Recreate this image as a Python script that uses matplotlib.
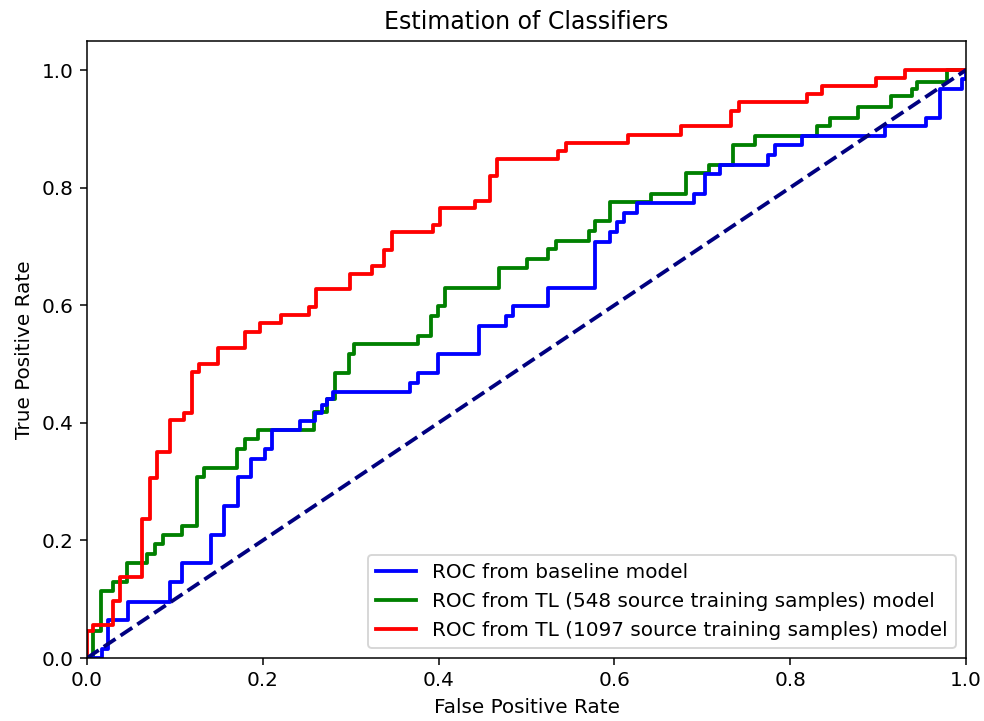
import matplotlib
import numpy as np
from matplotlib import pyplot as plt

matplotlib.use("Agg")

DPI = 137
plt.rcParams["font.size"] = 10.5

# ROC step points: false positive rate where the curve steps up, and true positive rate after the step
BASELINE_FPR = [0.0, 0.0166, 0.024, 0.047, 0.094, 0.108, 0.141, 0.156, 0.172, 0.187,
                0.2025, 0.211, 0.242, 0.259, 0.267, 0.273, 0.280, 0.368, 0.376, 0.399,
                0.446, 0.477, 0.485, 0.525, 0.578, 0.595, 0.6025, 0.611, 0.626, 0.690,
                0.703, 0.720, 0.775, 0.783, 0.813, 0.908, 0.955, 0.970, 0.995, 1.0]
BASELINE_TPR = [0.0, 0.016, 0.065, 0.096, 0.129, 0.162, 0.209, 0.259, 0.307, 0.338,
                0.355, 0.388, 0.403, 0.416, 0.430, 0.441, 0.453, 0.468, 0.484, 0.517,
                0.565, 0.582, 0.598, 0.629, 0.708, 0.725, 0.742, 0.757, 0.774, 0.789,
                0.823, 0.838, 0.855, 0.872, 0.887, 0.904, 0.919, 0.967, 0.985, 1.0]

TL548_FPR = [0.0, 0.007, 0.0155, 0.030, 0.046, 0.068, 0.077, 0.086, 0.108, 0.125,
             0.133, 0.171, 0.180, 0.195, 0.258, 0.273, 0.282, 0.298, 0.304, 0.376,
             0.391, 0.399, 0.407, 0.469, 0.500, 0.525, 0.533, 0.571, 0.578, 0.595,
             0.642, 0.681, 0.708, 0.735, 0.760, 0.830, 0.845, 0.877, 0.915, 0.938,
             0.944, 0.978, 1.0]
TL548_TPR = [0.0, 0.046, 0.114, 0.129, 0.162, 0.177, 0.194, 0.209, 0.225, 0.307,
             0.323, 0.355, 0.372, 0.388, 0.419, 0.441, 0.484, 0.517, 0.534, 0.548,
             0.582, 0.598, 0.629, 0.663, 0.678, 0.695, 0.709, 0.727, 0.744, 0.776,
             0.789, 0.824, 0.838, 0.872, 0.888, 0.904, 0.919, 0.937, 0.955, 0.967,
             0.980, 1.0, 1.0]

TL1097_FPR = [0.0, 0.007, 0.030, 0.038, 0.063, 0.072, 0.080, 0.094, 0.110, 0.119,
              0.127, 0.149, 0.180, 0.197, 0.221, 0.253, 0.260, 0.299, 0.324, 0.338,
              0.347, 0.394, 0.402, 0.441, 0.458, 0.466, 0.536, 0.545, 0.616, 0.676,
              0.733, 0.742, 0.819, 0.836, 0.898, 0.931, 1.0]
TL1097_TPR = [0.046, 0.056, 0.097, 0.138, 0.236, 0.306, 0.351, 0.404, 0.416, 0.487,
              0.500, 0.528, 0.555, 0.569, 0.584, 0.597, 0.627, 0.653, 0.667, 0.694,
              0.724, 0.736, 0.766, 0.778, 0.819, 0.849, 0.863, 0.876, 0.889, 0.905,
              0.931, 0.945, 0.959, 0.973, 0.987, 1.0, 1.0]

CURVES = [
    ("ROC from baseline model", BASELINE_FPR, BASELINE_TPR, "blue", 2.2),
    ("ROC from TL (548 source training samples) model", TL548_FPR, TL548_TPR, "green", 2.1),
    ("ROC from TL (1097 source training samples) model", TL1097_FPR, TL1097_TPR, "red", 2.3),
]


def plot_roc():
    fig = plt.figure(figsize=(984 / DPI, 721 / DPI), dpi=DPI)
    ax = fig.add_axes([87 / 984, 1 - 658 / 721, (966 - 87) / 984, (658 - 40.6) / 721])

    for label, fpr, tpr, color, z in CURVES:
        fpr = np.asarray(fpr)
        tpr = np.asarray(tpr)
        # a curve that jumps straight up at fpr=0 still starts from the origin
        if tpr[0] > 0:
            fpr = np.r_[0.0, fpr]
            tpr = np.r_[0.0, tpr]
        # step points -> staircase: hold previous tpr until the next fpr
        xs = np.repeat(fpr, 2)[1:]
        ys = np.repeat(tpr, 2)[:-1]
        ax.plot(xs, ys, color=color, lw=2, label=label, zorder=z)

    ax.plot([0, 1], [0, 1], color="navy", lw=2, linestyle="--", zorder=2.4)

    ax.set_xlim(0.0, 1.0)
    ax.set_ylim(0.0, 1.05)
    ax.set_xlabel("False Positive Rate")
    ax.set_ylabel("True Positive Rate")
    ax.set_title("Estimation of Classifiers", fontsize=12.4)
    ax.legend(loc="lower right")
    return fig


if __name__ == "__main__":
    figure = plot_roc()
    figure.savefig("out.png", dpi=DPI)
